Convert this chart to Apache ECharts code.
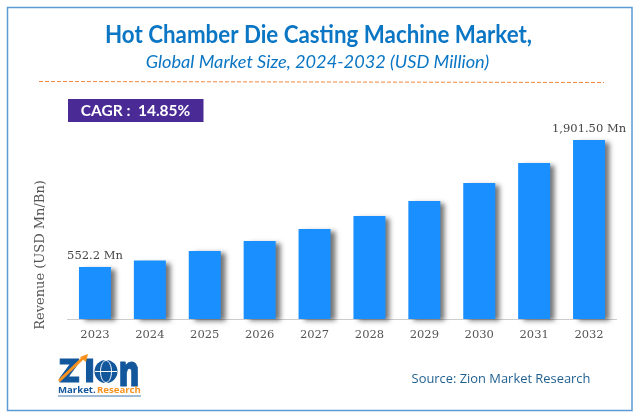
<!DOCTYPE html>
<html><head><meta charset="utf-8">
<style>html,body{margin:0;padding:0;background:#fff}#c{width:637px;height:417px}</style>
<script src="https://cdn.jsdelivr.net/npm/echarts@6/dist/echarts.min.js"></script>
</head><body><div id="c"></div>
<script>
var categories = ['2023','2024','2025','2026','2027','2028','2029','2030','2031','2032'];
var revenue = [552.2,621,722,829,956,1094,1253,1445,1657,1901.5];
var firstLabel = '552.2 Mn';
var lastLabel = '1,901.50 Mn';
var titleText = 'Hot Chamber Die Casting Machine Market,';
var subtitleText = 'Global Market Size, 2024-2032 (USD Million)';
var cagrText = 'CAGR :  14.85%';
var yAxisName = 'Revenue (USD Mn/Bn)';
var sourceText = 'Source: Zion Market Research';

var serif = '"DejaVu Serif", serif';
var chart = echarts.init(document.getElementById('c'), null, {renderer:'canvas'});
function lab(t){return {show:true,position:'top',distance:5,formatter:t,color:'#444',fontFamily:serif,fontSize:11.5};}
var seriesData = revenue.map(function(v,i){
  if(i===0) return {value:v,label:lab(firstLabel)};
  if(i===revenue.length-1) return {value:v,label:lab(lastLabel)};
  return v;
});
var logoBlue = '#12569b', logoOrange = '#f7931e';
chart.setOption({
  animation:false,
  backgroundColor:'#fff',
  grid:{left:67.5,right:20.5,top:60,bottom:98},
  xAxis:{type:'category',data:categories,
    axisLine:{lineStyle:{color:'#ccc',width:1}},axisTick:{show:false},
    axisLabel:{color:'#555',fontFamily:serif,fontSize:11.5,margin:10}},
  yAxis:{type:'value',min:0,max:2750,show:false},
  series:[{type:'bar',data:seriesData,barWidth:32,
    itemStyle:{color:'#1a8fff',shadowColor:'rgba(0,0,0,0.55)',shadowBlur:5,shadowOffsetX:5,shadowOffsetY:2}}],
  graphic:[
    {type:'rect',z:-1,shape:{x:7.5,y:7.5,width:624.5,height:403},style:{fill:'#fff',stroke:'#5b9bd5',lineWidth:1.5}},
    {type:'text',x:318.5,y:35,scaleX:0.93,style:{text:titleText,align:'center',verticalAlign:'middle',fill:'#0b76c4',font:'bold 24px Lato, sans-serif'}},
    {type:'text',x:317.5,y:62,style:{text:subtitleText,align:'center',verticalAlign:'middle',fill:'#0b76c4',font:'italic 18.2px Lato, sans-serif'}},
    {type:'line',shape:{x1:39,y1:81.5,x2:604,y2:82.5},style:{stroke:'#f4873c',lineWidth:1,lineDash:[4,2]}},
    {type:'rect',shape:{x:68,y:99,width:135.5,height:23},style:{fill:'#4a2a95'}},
    {type:'text',x:135.5,y:111,style:{text:cagrText,align:'center',verticalAlign:'middle',fill:'#fff',font:'bold 15.5px Lato, sans-serif'}},
    {type:'text',x:41,y:255,rotation:Math.PI/2,style:{text:yAxisName,align:'center',verticalAlign:'middle',fill:'#555',font:'13px '+serif}},
    {type:'text',x:501,y:379,style:{text:sourceText,align:'center',verticalAlign:'middle',fill:'#1f5f8f',font:'12.9px "Open Sans", sans-serif'}},
    // logo
    {type:'text',x:59,y:373,scaleX:1.05,style:{text:'Z',align:'left',verticalAlign:'middle',fill:logoBlue,stroke:logoBlue,lineWidth:1,font:'800 32px "Open Sans", sans-serif'}},
    {type:'text',x:84,y:373,style:{text:'I',align:'left',verticalAlign:'middle',fill:logoBlue,stroke:logoBlue,lineWidth:1,font:'800 32px "Open Sans", sans-serif'}},
    {type:'circle',z:5,shape:{cx:106,cy:371.5,r:11.5},style:{fill:logoBlue}},
    {type:'ellipse',z:6,shape:{cx:106,cy:371.5,rx:5.5,ry:11},style:{fill:'none',stroke:'#fff',lineWidth:1}},
    {type:'line',z:6,shape:{x1:95,y1:371.5,x2:117,y2:371.5},style:{stroke:'#fff',lineWidth:1}},
    {type:'text',x:118.5,y:374,scaleX:0.75,style:{text:'n',align:'left',verticalAlign:'middle',fill:logoBlue,stroke:logoBlue,lineWidth:0.8,font:'800 42px "Open Sans", sans-serif'}},
    {type:'line',z:7,shape:{x1:59,y1:381,x2:84,y2:357},style:{stroke:logoOrange,lineWidth:3}},
    {type:'polygon',z:7,shape:{points:[[80,357],[88,354],[86,362]]},style:{fill:logoOrange}},
    {type:'text',x:58,y:390,style:{text:'Market.',align:'left',verticalAlign:'middle',fill:logoBlue,font:'bold 9.6px "Open Sans", sans-serif'}},
    {type:'text',x:97,y:390,style:{text:'Research',align:'left',verticalAlign:'middle',fill:logoOrange,font:'bold 9.6px "Open Sans", sans-serif'}},
    {type:'line',shape:{x1:58,y1:396,x2:141,y2:396},style:{stroke:logoBlue,lineWidth:0.8}}
  ]
});
</script></body></html>
